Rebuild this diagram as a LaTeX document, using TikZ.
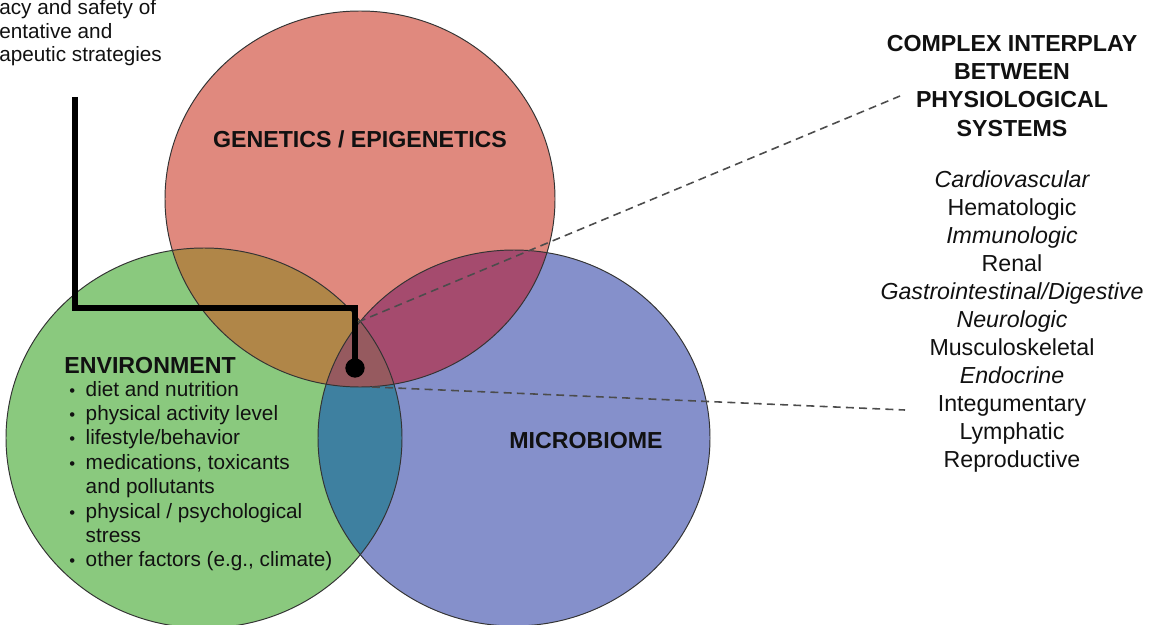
\documentclass[tikz,border=0pt]{standalone}
\usepackage{fontspec}
\setmainfont{Liberation Sans}
\usetikzlibrary{positioning}
\definecolor{GenRed}{RGB}{224,137,126}
\definecolor{EnvGreen}{RGB}{138,201,126}
\definecolor{MicBlue}{RGB}{133,144,203}
\definecolor{RedGreen}{RGB}{176,134,72}
\definecolor{GreenBlue}{RGB}{62,128,160}
\definecolor{RedBlue}{RGB}{165,75,110}
\definecolor{AllThree}{RGB}{150,90,95}
\definecolor{InkDark}{RGB}{17,17,17}
\tikzset{
	ring/.style={draw=black!80,line width=0.55pt},
	head/.style={font=\fontsize{13.2}{15.9}\selectfont\bfseries,text=InkDark,inner sep=0pt},
	body/.style={font=\fontsize{11.8}{13.9}\selectfont,text=InkDark,inner sep=0pt},
	sys/.style={font=\fontsize{13.2}{15.9}\selectfont,text=InkDark,inner sep=0pt},
	pointer/.style={draw=black,line width=3.2pt},
	guide/.style={draw=black!70,line width=0.9pt,dash pattern=on 4.5pt off 3pt},
	genshape/.style={x radius=195,y radius=188},
	envshape/.style={x radius=198,y radius=190},
	micshape/.style={x radius=196,y radius=188},
}
\newcommand{\dotmark}{{\fontsize{9.5}{9.5}\selectfont\textbullet}}

\begin{document}
\begin{tikzpicture}[x=0.02cm,y=-0.02cm]
	\useasboundingbox (0,0) rectangle (1149,625);
	\clip (0,0) rectangle (1149,625);
	\coordinate (gen) at (360,199);
	\coordinate (env) at (204,438);
	\coordinate (mic) at (514,438);
	% base discs
	\fill[EnvGreen] (env) ellipse[envshape];
	\fill[MicBlue] (mic) ellipse[micshape];
	\fill[GenRed] (gen) ellipse[genshape];
	% overlaps
	\begin{scope}
		\clip (env) ellipse[envshape];
		\fill[GreenBlue] (mic) ellipse[micshape];
	\end{scope}
	\begin{scope}
		\clip (gen) ellipse[genshape];
		\fill[RedGreen] (env) ellipse[envshape];
		\fill[RedBlue] (mic) ellipse[micshape];
		\clip (env) ellipse[envshape];
		\fill[AllThree] (mic) ellipse[micshape];
	\end{scope}
	\draw[ring] (env) ellipse[envshape];
	\draw[ring] (mic) ellipse[micshape];
	\draw[ring] (gen) ellipse[genshape];
	% labels in the circles
	\node[head,anchor=base] (genetics) at (360,148) {GENETICS / EPIGENETICS};
	\node[head,anchor=base] (microbiome) at (586,448) {MICROBIOME};
	\node[head,anchor=base west] (environment) at (64,373) {ENVIRONMENT};
	\node[body,anchor=base west] (factors) at (69,396) {%
		\begin{tabular}[t]{@{}l@{\hspace{6pt}}l@{}}
			\dotmark & diet and nutrition\\
			\dotmark & physical activity level\\
			\dotmark & lifestyle/behavior\\
			\dotmark & medications, toxicants\\
			& and pollutants\\
			\dotmark & physical / psychological\\
			& stress\\
			\dotmark & other factors (e.g., climate)
		\end{tabular}};
	% strategies note, cut at the left edge
	\foreach \txt/\yy [count=\i] in {acy and safety of/15,entative and/38.5,apeutic strategies/62}
		\node[body,anchor=base west] (note\i) at (-1,\yy) {\txt};
	% systems column
	\foreach \txt/\yy [count=\i] in {COMPLEX INTERPLAY/52,BETWEEN/80,PHYSIOLOGICAL/108,SYSTEMS/136}
		\node[head,anchor=base] (title\i) at (1012,\yy) {\txt};
	\foreach \txt/\sty/\yy [count=\i] in {Cardiovascular/\itshape/187,Hematologic/\upshape/215,
		Immunologic/\itshape/243,Renal/\upshape/271,{Gastrointestinal/Digestive}/\itshape/299,
		Neurologic/\itshape/327,Musculoskeletal/\upshape/355,Endocrine/\itshape/383,
		Integumentary/\upshape/411,Lymphatic/\upshape/439,Reproductive/\upshape/467}
		\node[sys,anchor=base] (sys\i) at (1012,\yy) {\sty\txt};
	% pointer and dashed guides
	\coordinate (start) at (75,97);
	\coordinate (bend) at (355,308);
	\node[circle,fill=black,minimum size=11pt,inner sep=0pt] (hub) at (355,368) {};
	\draw[pointer] (start) |- (bend) -- (hub.center);
	\coordinate (upfoot) at (358,322);
	\coordinate (uptip) at (900,96);
	\coordinate (lowfoot) at (372,387);
	\coordinate (lowtip) at (905,410);
	\draw[guide] (upfoot) -- (uptip);
	\draw[guide] (lowfoot) -- (lowtip);
\end{tikzpicture}
\end{document}
